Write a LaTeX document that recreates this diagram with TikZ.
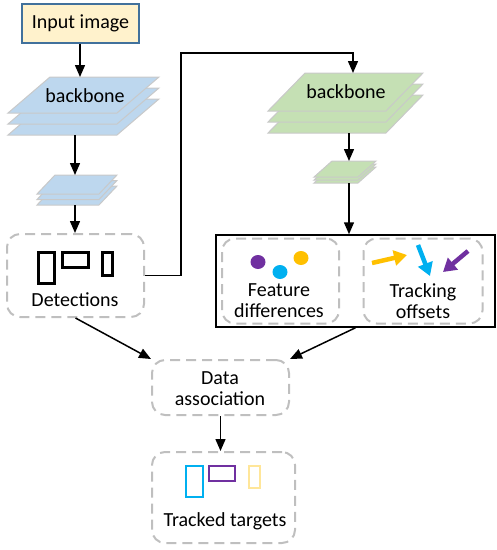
\documentclass[tikz,border=0pt]{standalone}
\usepackage{fontspec}
\setmainfont{Carlito}
\usetikzlibrary{arrows.meta,calc}
\definecolor{cream}{HTML}{FFF2CC}
\definecolor{inblue}{HTML}{41719C}
\definecolor{lblue}{HTML}{BDD7EE}
\definecolor{lgreen}{HTML}{C5E0B4}
\definecolor{edgegray}{HTML}{C9C9C9}
\definecolor{dgray}{HTML}{BFBFBF}
\definecolor{mpurple}{HTML}{7030A0}
\definecolor{mblue}{HTML}{00B0F0}
\definecolor{myellow}{HTML}{FFC000}
\definecolor{pyellow}{HTML}{FFE699}
\newcommand\layer[6]{\filldraw[fill=#6,draw=edgegray,line width=1pt] (#1,#2) -- ++(#3,0) -- ++(-#4,#5) -- ++(-#3,0) -- cycle;}
\tikzset{
  arr/.style={draw,line width=1.5pt,-{Triangle[length=12pt,width=10pt]}},
  dbox/.style={draw=dgray,line width=2pt,dash pattern=on 10pt off 6pt,rounded corners=13pt,inner sep=0pt},
  inbox/.style={draw=inblue,fill=cream,line width=1.2pt,inner sep=0pt},
  lbl/.style={inner sep=0pt,align=center},
  rct/.style={draw,line width=3pt},
  bigarr/.style={line width=4.5pt,-{Triangle[length=13pt,width=15pt]}},
}
\begin{document}
\begin{tikzpicture}[x=1pt,y=-1pt,font=\fontsize{20}{21}\selectfont]
\useasboundingbox (0,0) rectangle (497,550);
% input
\node[inbox,minimum width=117pt,minimum height=39pt] (input) at (80.5,23.5) {Input image};
% blue big stack
\layer{50}{99}{109}{42}{36}{lblue}
\layer{50}{88}{109}{42}{36}{lblue}
\layer{50}{77}{109}{42}{36}{lblue}
\node[lbl] (bb1) at (85,96) {backbone};
\coordinate (bb1in) at (80,77);
\coordinate (bb1out) at (75,135);
% small blue stack
\layer{55}{186}{62}{18}{19}{lblue}
\layer{55}{180.5}{62}{18}{19}{lblue}
\layer{55}{175}{62}{18}{19}{lblue}
\coordinate (sb1in) at (75,175);
\coordinate (sb1out) at (75,205);
% green big stack
\layer{305}{95}{118}{37}{38}{lgreen}
\layer{305}{84}{118}{37}{38}{lgreen}
\layer{305}{73}{118}{37}{38}{lgreen}
\node[lbl] (bb2) at (346,92) {backbone};
\coordinate (bb2in) at (353,73);
\coordinate (bb2out) at (349,133);
% small green stack
\layer{332}{167}{44}{18}{16}{lgreen}
\layer{332}{164}{44}{18}{16}{lgreen}
\layer{332}{161}{44}{18}{16}{lgreen}
\coordinate (sb2in) at (349,161);
\coordinate (sb2out) at (349,183);
% detections
\node[dbox,minimum width=137pt,minimum height=83pt] (det) at (75.5,275.5) {};
\draw[rct] (38,252) rectangle (54,283);
\draw[rct] (62,252) rectangle (88,267);
\draw[rct] (102,252) rectangle (112,275);
\node[lbl] (dett) at (75,300) {Detections};
% black box with two inner boxes
\node[draw,line width=1.5pt,minimum width=279pt,minimum height=92pt,inner sep=0pt] (fo) at (355.5,281) {};
\node[dbox,minimum width=117pt,minimum height=85pt] (feat) at (280.5,281) {};
\node[dbox,minimum width=119pt,minimum height=85pt] (trk) at (423,281) {};
\fill[mpurple] (258,262) ellipse (7.5pt and 7pt);
\fill[mblue] (280,272) ellipse (7.5pt and 7pt);
\fill[myellow] (301,258) ellipse (7.5pt and 7pt);
\node[lbl] (featt) at (279,301) {Feature\\differences};
\draw[bigarr,myellow] (372,263) -- (407,255);
\draw[bigarr,mblue] (418,245) -- (430,276);
\draw[bigarr,mpurple] (468,251) -- (443,272);
\node[lbl] (trkt) at (423,301) {Tracking\\offsets};
% data association
\node[dbox,minimum width=137pt,minimum height=55pt] (data) at (220.5,387.5) {};
\node[lbl] (datat) at (220,389) {Data\\association};
% tracked targets
\node[dbox,minimum width=143pt,minimum height=91pt] (tt) at (223.5,497.5) {};
\draw[draw=mblue,line width=2.5pt] (186,466) rectangle (203,497);
\draw[draw=mpurple,line width=2.5pt] (209,466) rectangle (235,481);
\draw[draw=pyellow,line width=2.5pt] (249,466) rectangle (260,488);
\node[lbl] (ttt) at (225,521) {Tracked targets};
% connectors
\coordinate (turn) at (181,53);
\draw[arr] (input.south -| bb1in) -- (bb1in);
\draw[arr] (bb1out) -- (sb1in);
\draw[arr] (sb1out) -- (det.north -| sb1out);
\draw[arr] (det.east) -| (turn) -| (bb2in);
\draw[arr] (bb2out) -- (sb2in);
\draw[arr] (sb2out) -- (fo.north -| sb2out);
\draw[arr] (det.south) -- (data.north west);
\draw[arr] (fo.south) -- (data.north east);
\draw[arr] (data.south) -- (data.south |- tt.north);
\end{tikzpicture}
\end{document}
